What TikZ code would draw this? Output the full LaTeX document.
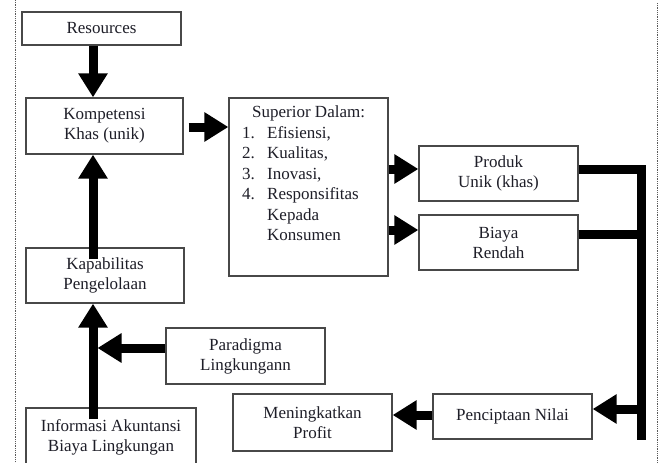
\documentclass[tikz,border=0pt]{standalone}
\usepackage{fontspec}
\setmainfont{Liberation Serif}
\usetikzlibrary{arrows.meta,calc}
\definecolor{txt}{HTML}{1E1E28}
\definecolor{frame}{HTML}{484848}
\tikzset{
  box/.style={draw=frame, line width=1.3pt, fill=white, align=center, inner sep=2pt,
    text=txt, font=\fontsize{17}{20}\selectfont},
  arr/.style={line width=9pt, -{Triangle[width=28pt,length=24pt]}},
  bar/.style={line width=9pt, line join=miter},
  border/.style={densely dotted, line width=0.8pt, draw=gray!70!black}
}
\begin{document}
\begin{tikzpicture}[x=1pt,y=-1pt]
\useasboundingbox (0,0) rectangle (659,463);
\draw[border] (15,0) -- (15,463);
\draw[border] (657,3) -- (657,463);

\node[box, minimum width=159pt, minimum height=33pt] (res) at (101.5,28.5) {Resources};
\node[box, minimum width=157pt, minimum height=56pt] (komp) at (104.5,126) {Kompetensi\\Khas (unik)};
\node[box, minimum width=159pt, minimum height=178pt] (sup) at (308.5,187) {};
\node[anchor=north west, align=left, inner sep=0pt, text=txt, font=\fontsize{17}{20.5}\selectfont]
  (suptext) at (242,106) {\hspace*{10pt}Superior Dalam:\\
  \makebox[25pt][l]{1.}Efisiensi,\\
  \makebox[25pt][l]{2.}Kualitas,\\
  \makebox[25pt][l]{3.}Inovasi,\\
  \makebox[25pt][l]{4.}Responsifitas\\
  \hspace*{25pt}Kepada\\
  \hspace*{25pt}Konsumen};
\node[box, minimum width=159pt, minimum height=55pt] (prod) at (498.5,173.5) {Produk\\Unik (khas)};
\node[box, minimum width=159pt, minimum height=55pt] (biaya) at (498.5,242.5) {Biaya\\Rendah};
\node[box, minimum width=158pt, minimum height=55pt] (kap) at (105,275.5) {Kapabilitas\\Pengelolaan};
\node[box, minimum width=159pt, minimum height=56pt] (para) at (245.5,356) {Paradigma\\Lingkungann};
\node[box, minimum width=159pt, minimum height=57pt] (mening) at (312.5,422.5) {Meningkatkan\\Profit};
\node[box, minimum width=159pt, minimum height=45pt] (penc) at (512.5,416.5) {Penciptaan Nilai};
\node[box, minimum width=170pt, minimum height=58pt] (info) at (111,437) {Informasi Akuntansi\\Biaya Lingkungan};

\coordinate (spine) at (93,0);
\coordinate (rbot) at (641,440);

% left spine
\draw[arr] (res.south -| spine) -- (komp.north -| spine);
\draw[arr] ($(kap.north -| spine)+(0,12)$) -- (komp.south -| spine);
\draw[arr] ($(info.north -| spine)+(0,12)$) -- (kap.south -| spine);
\draw[arr] ($(para.west)+(0,-8)$) -- ($(spine |- para.west)+(4.5,-8)$);

% to superior and beyond
\draw[arr] ($(komp.east)+(5,1)$) -- ($(sup.west |- komp.east)+(0,1)$);
\draw[arr] ($(sup.east |- prod.west)+(0,-4.5)$) -- ($(prod.west)+(0,-4.5)$);
\draw[arr] ($(sup.east |- biaya.west)+(0,-12.5)$) -- ($(biaya.west)+(0,-12.5)$);

% right spine
\draw[bar] ($(prod.east)+(0,-4.5)$) -| (rbot);
\draw[bar] ($(biaya.east)+(0,-8.5)$) -- ($(rbot |- biaya.east)+(0,-8.5)$);
\draw[arr] ($(rbot |- penc.east)+(0,-7.5)$) -- ($(penc.east)+(0,-7.5)$);
\draw[arr] ($(penc.west)+(0,-1.5)$) -- ($(mening.east |- penc.west)+(0,-1.5)$);
\end{tikzpicture}
\end{document}
